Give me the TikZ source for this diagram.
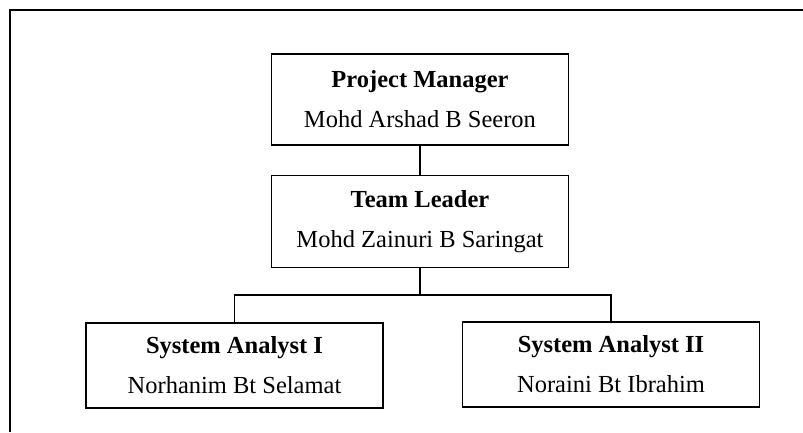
\documentclass[tikz,border=0pt]{standalone}
\usepackage{fontspec}
\setmainfont{Liberation Serif}

\newcommand*{\pagew}{803}
\newcommand*{\pageh}{432}

\begin{document}
\begin{tikzpicture}
[
	x=1pt,y=1pt,
	post/.style={draw,line width=1.5pt,rectangle,minimum width=297pt,align=center,
		inner sep=0pt,font=\fontsize{24.5}{29}\selectfont},
	link/.style={line width=1.1pt}
]

	\useasboundingbox (0,0) rectangle (\pagew,-\pageh);

	% frame round the chart
	\draw[line width=1.1pt] (10,-\pageh) -- (10,-10) -- (\pagew,-10);

	% posts
	\node[post,minimum height=91pt] at (420,-99.5) (pm)
		{\textbf{Project Manager}\\[11pt]Mohd Arshad B Seeron};
	\node[post,minimum height=92pt] at (420,-221.5) (tl)
		{\textbf{Team Leader}\\[11pt]Mohd Zainuri B Saringat};
	\node[post,minimum height=85pt] at (234.5,-365.5) (sa1)
		{\textbf{System Analyst I}\\[11pt]Norhanim Bt Selamat};
	\node[post,minimum height=85pt] at (611,-364.5) (sa2)
		{\textbf{System Analyst II}\\[11pt]Noraini Bt Ibrahim};

	% reporting lines
	\coordinate (split) at (420,-295);
	\draw[link] (pm) -- (tl);
	\draw[link] (tl) -- (split);
	\draw[link] (split) -| (sa1);
	\draw[link] (split) -| (sa2);

\end{tikzpicture}
\end{document}
